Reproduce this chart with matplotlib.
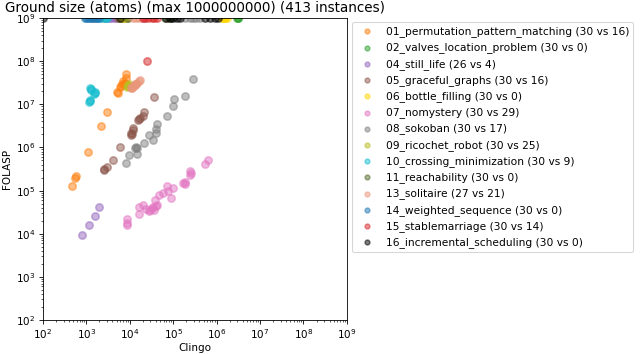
import numpy as np
import matplotlib
matplotlib.use("Agg")
import matplotlib.pyplot as plt

# cap used for instances where FOLASP exceeded the max ground size
max_size = 1e9
n_instances = 413

# benchmark names, counts and colours (legend order)
names = ["01_permutation_pattern_matching", "02_valves_location_problem", "04_still_life",
         "05_graceful_graphs", "06_bottle_filling", "07_nomystery", "08_sokoban",
         "09_ricochet_robot", "10_crossing_minimization", "11_reachability",
         "13_solitaire", "14_weighted_sequence", "15_stablemarriage",
         "16_incremental_scheduling"]
solved_clingo = [30, 30, 26, 30, 30, 30, 30, 30, 30, 30, 27, 30, 30, 30]
solved_folasp = [16, 0, 4, 16, 0, 29, 17, 25, 9, 0, 21, 0, 14, 0]
colors = ["tab:orange", "tab:green", "tab:purple", "tab:brown", "gold", "tab:pink",
          "tab:gray", "tab:olive", "tab:cyan", "darkolivegreen", "darksalmon",
          "tab:blue", "tab:red", "black"]

# ground sizes (clingo, folasp) for instances solved by both
clingo = {
    "01": [480, 570, 560, 1100, 2200, 3000, 5200, 6300, 7100, 8100, 5300, 6000, 7500, 8000, 6800, 7700],
    "02": [],
    "04": [790, 1150, 1580, 2000],
    "05": [2600, 2600, 3000, 4200, 5900, 1.07e4, 1.07e4, 1.2e4, 1.2e4, 1.58e4, 1.7e4, 2.0e4, 2.1e4, 3.6e4, 1.6e4, 1.15e4],
    "06": [],
    "07": [8500, 8500, 8500, 1.6e4, 1.6e4, 2.0e4, 2.4e4, 2.9e4, 3.2e4, 3.5e4, 3.7e4, 3.8e4, 4.2e4, 4.6e4,
           5.9e4, 7.1e4, 7.7e4, 8.9e4, 1.0e5, 1.66e5, 1.86e5, 1.9e5, 2.5e5, 2.4e5, 2.6e5, 5.4e5, 6.5e5, 2.8e4, 4.0e4],
    "08": [8100, 9800, 1.5e4, 1.4e4, 1.5e4, 2.1e4, 2.8e4, 3.4e4, 4.0e4, 4.0e4, 4.2e4, 7.3e4, 1.0e5, 1.05e5, 1.86e5, 2.8e5, 1.3e4],
    "09": [9000, 9300, 9600, 8800, 9100],
    "10": [1200, 1580, 1200, 1250, 1500, 1150, 1300, 1550, 1200],
    "11": [],
    "13": [1.05e4, 1.1e4, 1.2e4, 1.3e4, 1.4e4, 1.5e4, 1.6e4, 1.7e4, 1.15e4, 1.25e4, 1.35e4],
    "14": [],
    "15": [2.5e4],
    "16": [],
}
folasp = {
    "01": [1.3e5, 2.2e5, 2.0e5, 7.9e5, 3.2e6, 6.7e6, 1.9e7, 2.7e7, 3.4e7, 5.1e7, 1.8e7, 2.5e7, 3.0e7, 4.0e7, 2.9e7, 3.2e7],
    "02": [],
    "04": [9.2e3, 1.6e4, 2.6e4, 4.1e4],
    "05": [3.0e5, 3.2e5, 3.6e5, 5.1e5, 1.05e6, 1.9e6, 2.2e6, 2.6e6, 2.9e6, 4.4e6, 4.8e6, 5.3e6, 6.6e6, 1.45e7, 4.6e6, 2.0e6],
    "06": [],
    "07": [1.6e4, 1.8e4, 2.2e4, 2.9e4, 4.1e4, 4.7e4, 3.8e4, 3.5e4, 3.9e4, 4.2e4, 3.6e4, 5.9e4, 4.7e4, 7.9e4,
           8.7e4, 1.3e5, 9.6e4, 6.9e4, 1.17e5, 1.5e5, 1.6e5, 1.4e5, 2.8e5, 2.3e5, 2.5e5, 4.2e5, 5.0e5, 3.3e4, 4.4e4],
    "08": [4.4e5, 6.8e5, 7.1e5, 1.0e6, 9.5e5, 1.27e6, 1.9e6, 1.5e6, 2.2e6, 2.7e6, 3.5e6, 5.3e6, 9.3e6, 1.3e7, 1.6e7, 3.9e7, 9.8e5],
    "09": [2.6e7, 2.8e7, 3.0e7, 2.5e7, 2.7e7],
    "10": [2.4e7, 1.8e7, 1.2e7, 2.2e7, 1.7e7, 1.15e7, 2.3e7, 1.9e7, 1.25e7],
    "11": [],
    "13": [2.4e7, 2.5e7, 2.6e7, 2.8e7, 3.0e7, 3.2e7, 3.5e7, 3.7e7, 2.45e7, 2.7e7, 2.9e7],
    "14": [],
    "15": [1.0e8],
    "16": [],
}
# clingo ground size of instances where FOLASP hit the cap
capped = {
    "01": [1500, 2500],
    "02": [3.1e6, 3.1e6, 3.0e6],
    "04": [2800, 3300, 3800, 4300, 4800],
    "05": [5500, 6500, 7500, 8500],
    "06": [7200, 1.3e6, 1.4e6, 1.5e6, 1.6e6, 1.7e6],
    "07": [2.0e4],
    "08": [1.9e5, 2.4e5, 2.8e5, 3.4e5, 4.2e5],
    "09": [6000, 7000, 8000],
    "10": [1900, 2200, 2500, 2800, 3000],
    "11": [9000, 6.5e4, 8.0e4, 9.0e4],
    "13": [1.2e4, 1.4e4, 1.6e4],
    "14": [930, 1000, 1100, 1200, 1300, 1400, 1600, 1800, 2000],
    "15": [2.0e4, 2.3e4, 2.6e4, 3.3e4, 3.7e4, 4.2e4],
    "16": [100, 6000, 7.0e4, 8.5e4, 1.0e5, 1.2e5, 1.4e5, 5.5e5, 7.0e5, 9.0e5, 1.1e6],
}

# drawn at 75 dpi so default-ish sizes come out like the downscaled original
fig = plt.figure(figsize=(640 / 75, 354 / 75), dpi=75)
ax = fig.add_axes([0.067, 0.096, 0.475, 0.853])

for name, nc, nf, col in zip(names, solved_clingo, solved_folasp, colors):
    key = name[:2]
    xs = clingo[key] + capped[key]
    ys = folasp[key] + [max_size] * len(capped[key])
    ax.scatter(xs, ys, s=50, color=col, alpha=0.5, linewidths=1.5,
               label="%s (%d vs %d)" % (name, nc, nf))

ax.set_xscale("log")
ax.set_yscale("log")
ax.set_xlim(1e2, max_size)
ax.set_ylim(1e2, max_size)
ax.set_xlabel("Clingo", fontsize=10, labelpad=2)
ax.set_ylabel("FOLASP", fontsize=10)
ax.tick_params(labelsize=10)
ax.set_title("Ground size (atoms) (max %d) (%d instances)" % (max_size, n_instances), fontsize=13)
ax.legend(loc="upper left", bbox_to_anchor=(1.016, 0.987), borderaxespad=0,
          fontsize=10.2, markerscale=0.65, labelspacing=0.5)

fig.savefig("out.png", dpi=75)
